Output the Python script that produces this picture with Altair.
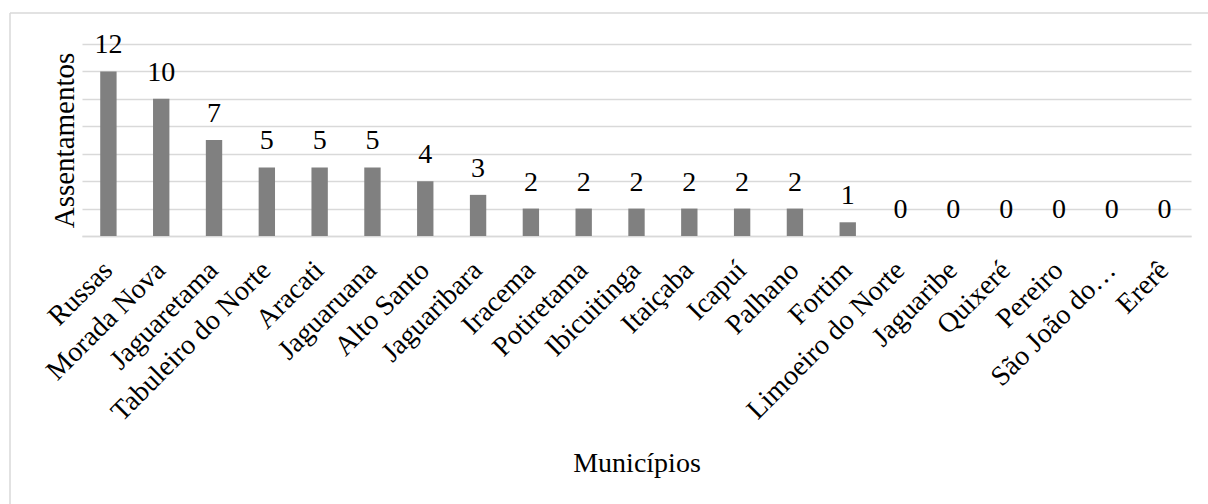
import altair as alt
import pandas as pd

municipios = ["Russas", "Morada Nova", "Jaguaretama", "Tabuleiro do Norte", "Aracati",
              "Jaguaruana", "Alto Santo", "Jaguaribara", "Iracema", "Potiretama",
              "Ibicuitinga", "Itaiçaba", "Icapuí", "Palhano", "Fortim",
              "Limoeiro do Norte", "Jaguaribe", "Quixeré", "Pereiro", "São João do…", "Ererê"]
assentamentos = [12, 10, 7, 5, 5, 5, 4, 3, 2, 2, 2, 2, 2, 2, 1, 0, 0, 0, 0, 0, 0]
y_ticks = [0, 2, 4, 6, 8, 10, 12, 14]

df = pd.DataFrame({"Municípios": municipios, "Assentamentos": assentamentos})

FONT = "Liberation Serif"
GRID = "#d9d9d9"

x_enc = alt.X(
    "Municípios:N",
    sort=municipios,
    scale=alt.Scale(paddingInner=0.69, paddingOuter=0.345),
    axis=alt.Axis(
        title="Municípios",
        labelAngle=315,
        labelAlign="right",
        labelBaseline="top",
        labelFont=FONT,
        labelFontSize=28,
        labelColor="black",
        labelPadding=20,
        labelOffset=-10,
        labelLimit=500,
        labelOverlap=False,
        ticks=False,
        domainColor=GRID,
        domainWidth=1.5,
        titleFont=FONT,
        titleFontSize=28,
        titleFontWeight="normal",
        titleColor="black",
        titleY=235,
        titleBaseline="alphabetic",
    ),
)

y_enc = alt.Y(
    "Assentamentos:Q",
    scale=alt.Scale(domain=[0, 14], nice=False),
    axis=alt.Axis(
        values=y_ticks,
        tickCount=8,
        labels=False,
        ticks=False,
        domain=False,
        grid=True,
        gridColor=GRID,
        gridWidth=1.5,
        title="Assentamentos",
        titleFont=FONT,
        titleFontSize=29,
        titleFontWeight="normal",
        titleColor="black",
        titleAngle=270,
        titleX=-9,
        titleY=96,
        titleAlign="center",
        titleBaseline="alphabetic",
    ),
)

base = alt.Chart(df).encode(x=x_enc, y=y_enc)

bars = base.mark_bar(color="#808080")

labels = base.mark_text(
    baseline="alphabetic", dy=-18, fontSize=28, font=FONT, color="black"
).encode(text="Assentamentos:Q")

frame_df = pd.DataFrame({"k": [0]})
left_border = alt.Chart(frame_df).mark_rule(color=GRID, strokeWidth=1.5).encode(
    x=alt.value(-72), y=alt.value(-31), y2=alt.value(470)
)
top_border = alt.Chart(frame_df).mark_rule(color=GRID, strokeWidth=1.5).encode(
    x=alt.value(-72), x2=alt.value(1140), y=alt.value(-31)
)

chart = alt.layer(bars, labels, left_border, top_border).properties(
    width=1109,
    height=192,
    autosize=alt.AutoSizeParams(type="none"),
    padding={"left": 82, "top": 44, "right": 17, "bottom": 268},
    background="white",
).configure_view(stroke=None)

chart.save("out.html", embed_options={"renderer": "svg", "actions": False})
